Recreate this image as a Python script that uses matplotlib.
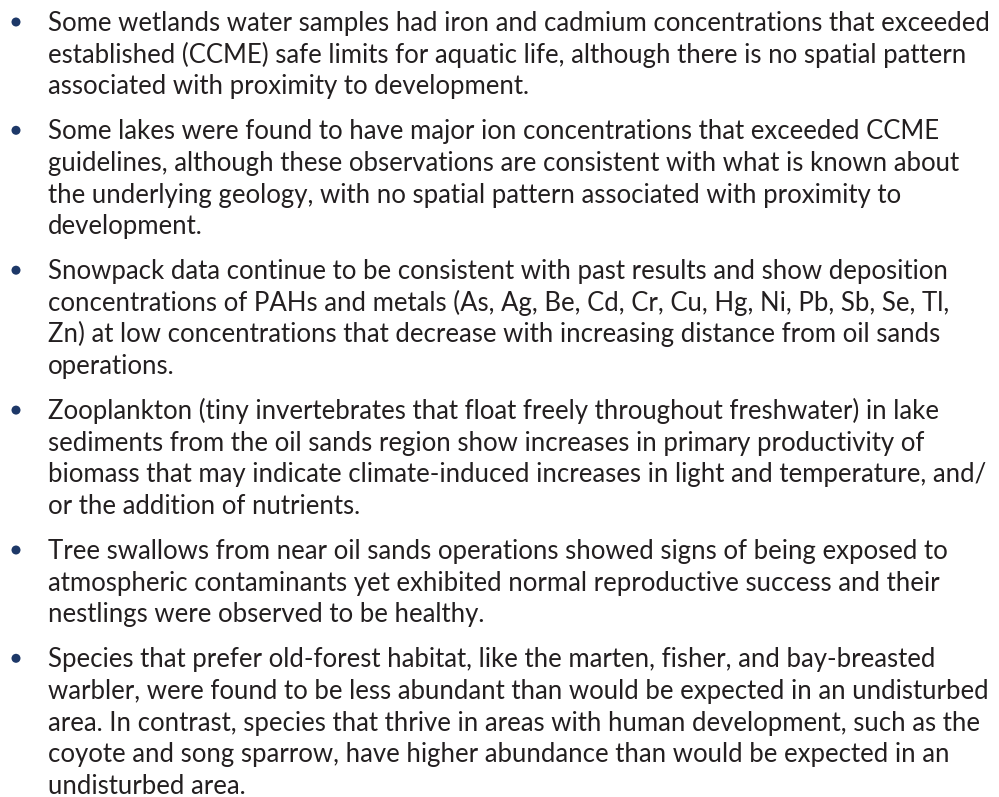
import matplotlib
matplotlib.use("Agg")
import matplotlib.pyplot as plt
from matplotlib.patches import Circle

# ---- content ----
bullet_wetlands = [
    "Some wetlands water samples had iron and cadmium concentrations that exceeded",
    "established (CCME) safe limits for aquatic life, although there is no spatial pattern",
    "associated with proximity to development.",
]
bullet_lakes = [
    "Some lakes were found to have major ion concentrations that exceeded CCME",
    "guidelines, although these observations are consistent with what is known about",
    "the underlying geology, with no spatial pattern associated with proximity to",
    "development.",
]
bullet_snowpack = [
    "Snowpack data continue to be consistent with past results and show deposition",
    "concentrations of PAHs and metals (As, Ag, Be, Cd, Cr, Cu, Hg, Ni, Pb, Sb, Se, Tl,",
    "Zn) at low concentrations that decrease with increasing distance from oil sands",
    "operations.",
]
bullet_zooplankton = [
    "Zooplankton (tiny invertebrates that float freely throughout freshwater) in lake",
    "sediments from the oil sands region show increases in primary productivity of",
    "biomass that may indicate climate-induced increases in light and temperature, and/",
    "or the addition of nutrients.",
]
bullet_swallows = [
    "Tree swallows from near oil sands operations showed signs of being exposed to",
    "atmospheric contaminants yet exhibited normal reproductive success and their",
    "nestlings were observed to be healthy.",
]
bullet_species = [
    "Species that prefer old-forest habitat, like the marten, fisher, and bay-breasted",
    "warbler, were found to be less abundant than would be expected in an undisturbed",
    "area. In contrast, species that thrive in areas with human development, such as the",
    "coyote and song sparrow, have higher abundance than would be expected in an",
    "undisturbed area.",
]
paragraphs = [bullet_wetlands, bullet_lakes, bullet_snowpack,
              bullet_zooplankton, bullet_swallows, bullet_species]

# ---- layout (pixels) ----
W, H = 999, 797
text_x = 48
bullet_x = 16
first_baseline = 31
line_step = 31.6
para_gap = 13.5
bullet_offset = 9
target_width = 945  # width of first line in reference
text_color = "#231f20"
bullet_color = "#1d3868"
family = ["Lato", "DejaVu Sans"]

fig = plt.figure(figsize=(W / 100, H / 100), dpi=100)
fig.patch.set_facecolor("white")

# fit font size so first line matches reference width
probe = fig.text(0, 0, bullet_wetlands[0], fontsize=16, family=family)
fig.canvas.draw()
w = probe.get_window_extent().width
probe.remove()
fs = 16 * target_width / w

y = first_baseline
for para in paragraphs:
    fig.patches.append(Circle((bullet_x, H - (y - bullet_offset)), 4.5, transform=None,
                              facecolor=bullet_color, edgecolor="none"))
    for line in para:
        fig.text(text_x, H - y, line, transform=None, fontsize=fs,
                 family=family, color=text_color, va="baseline", ha="left")
        y += line_step
    y += para_gap

fig.savefig("out.png", dpi=100, facecolor="white")
